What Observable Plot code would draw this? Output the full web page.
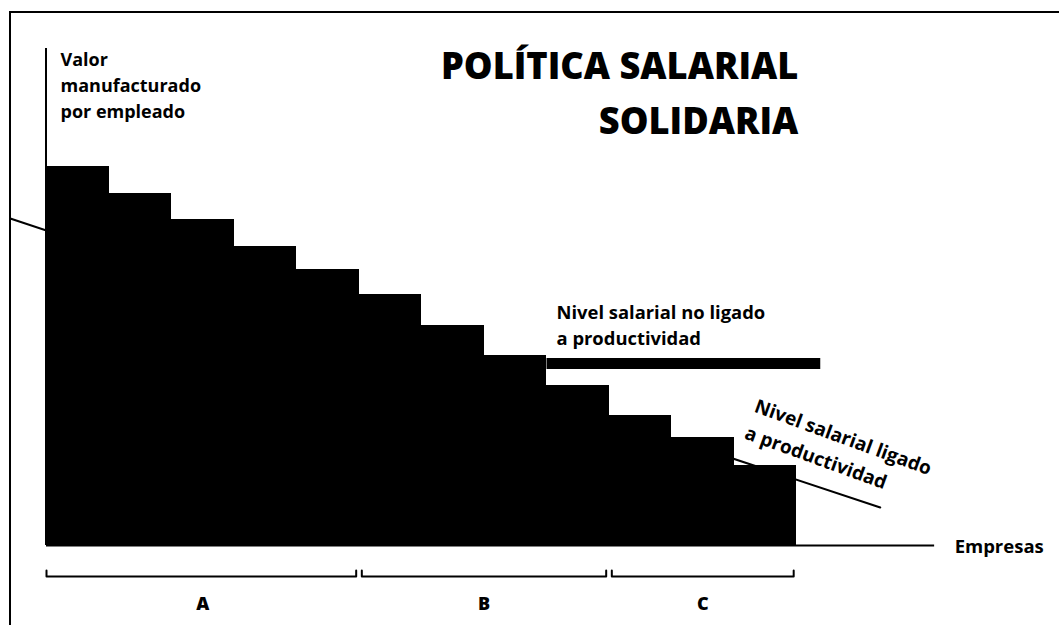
<!DOCTYPE html>
<html>
<head>
<meta charset="utf-8">
<script src="https://cdn.jsdelivr.net/npm/d3@7"></script>
<script src="https://cdn.jsdelivr.net/npm/@observablehq/plot@0.6"></script>
<style>
  html, body { margin: 0; padding: 0; background: #fff; }
  #wrap { position: relative; width: 1059px; height: 625px; overflow: hidden; background: #fff; font-family: "Open Sans", sans-serif; }
  #frame { position: absolute; left: 9px; top: 11px; width: 1100px; height: 700px; border-left: 2px solid #000; border-top: 2px solid #000; pointer-events: none; }
  #chart { position: absolute; left: 0; top: 0; }
</style>
</head>
<body>
<div id="wrap"><div id="frame"></div><div id="chart"></div></div>
<script>
// ---- data ----
const firms = [1, 2, 3, 4, 5, 6, 7, 8, 9, 10, 11, 12];
const valuePerEmployee = [75.8, 70.4, 65.2, 59.8, 55.2, 50.2, 44, 38, 32, 26, 21.6, 16];

const groups = ["A", "B", "C"];
const groupFirstFirm = [1, 6, 10];
const groupLastFirm = [5, 9, 12];

// wage level linked to productivity (straight line)
const linkedX = [-0.58, 13.34];
const linkedY = [65.4, 7.6];
// wage level not linked to productivity (flat)
const flatX = [8, 12.38];
const flatY = [36.4, 36.4];

const titleLines = ["POLÍTICA SALARIAL", "SOLIDARIA"];
const yLabel = "Valor\nmanufacturado\npor empleado";
const xLabel = "Empresas";
const flatLabel = "Nivel salarial no ligado\na productividad";
const linkedLabel = "Nivel salarial ligado\na productividad";

// ---- derived tables ----
const bars = firms.map((f, i) => ({firm: f, v: valuePerEmployee[i]}));
const linked = linkedX.map((x, i) => ({x, y: linkedY[i]}));
const flat = flatX.map((x, i) => ({x, y: flatY[i]}));
const inset = 0.045;
const brackets = [];
groups.forEach((g, i) => {
  const s = groupFirstFirm[i] - 1 + (i === 0 ? 0 : inset);
  const e = groupLastFirm[i] - inset;
  brackets.push({g, x: s, y: -5}, {g, x: s, y: -6.2}, {g, x: e, y: -6.2}, {g, x: e, y: -5});
});
const groupLabels = groups.map((g, i) => ({g, x: (groupFirstFirm[i] - 1 + groupLastFirm[i]) / 2}));

const chart = Plot.plot({
  width: 1059,
  height: 625,
  margin: 0,
  x: {domain: [0, 12], range: [46, 796], axis: null},
  y: {domain: [0, 100], range: [545, 45], axis: null},
  style: {background: "transparent", overflow: "visible", fontFamily: "'Open Sans', sans-serif", color: "#000"},
  marks: [
    Plot.line(linked, {x: "x", y: "y", stroke: "#000", strokeWidth: 2}),
    Plot.line(flat, {x: "x", y: "y", stroke: "#000", strokeWidth: 11, strokeLinecap: "butt"}),
    Plot.rect(bars, {x1: d => d.firm - 1, x2: d => d.firm, y1: 0, y2: "v", fill: "#000", shapeRendering: "crispEdges"}),
    Plot.ruleX([0], {y1: 0, y2: 99.4, stroke: "#000", strokeWidth: 2, dx: -0.5}),
    Plot.ruleY([0], {x1: 0, x2: 14.21, stroke: "#000", strokeWidth: 2}),
    Plot.line(brackets, {x: "x", y: "y", z: "g", stroke: "#000", strokeWidth: 2, curve: "linear"}),
    Plot.text(groupLabels, {x: "x", y: -12.8, text: "g", textAnchor: "middle", lineAnchor: "bottom", fontSize: 18, fontWeight: 800, fill: "#000"}),
    Plot.text([titleLines[0]], {x: 12.03, y: 93.4, text: d => d, textAnchor: "end", lineAnchor: "bottom", fontSize: 36.2, fontWeight: 800, fill: "#000"}),
    Plot.text([titleLines[1]], {x: 12.03, y: 82.4, text: d => d, textAnchor: "end", lineAnchor: "bottom", fontSize: 36.2, fontWeight: 800, fill: "#000"}),
    Plot.text([yLabel], {x: 0.224, y: 85.6, text: d => d, textAnchor: "start", lineAnchor: "bottom", lineHeight: 26 / 18, fontSize: 18, fontWeight: 700, fill: "#000"}),
    Plot.text([flatLabel], {x: 8.16, y: 40.2, text: d => d, textAnchor: "start", lineAnchor: "bottom", lineHeight: 26 / 18.4, fontSize: 18.4, fontWeight: 700, fill: "#000"}),
    Plot.text([linkedLabel], {x: 11.42, y: 30.6, text: d => d, textAnchor: "start", lineAnchor: "top", rotate: 20, lineHeight: 1.5, fontSize: 19, fontWeight: 700, fill: "#000"}),
    Plot.text([xLabel], {x: 14.53, y: -1.4, text: d => d, textAnchor: "start", lineAnchor: "bottom", fontSize: 18.5, fontWeight: 700, fill: "#000"})
  ]
});
document.getElementById("chart").appendChild(chart);
</script>
</body>
</html>
